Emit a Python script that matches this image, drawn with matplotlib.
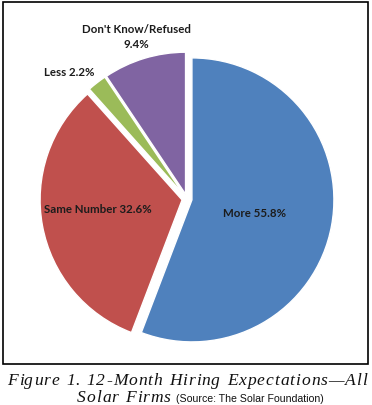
import matplotlib
matplotlib.use("Agg")
import matplotlib.pyplot as plt
from matplotlib.patches import Rectangle

# data
labels = ["More", "Same Number", "Less", "Don't Know/Refused"]
shares = [55.8, 32.6, 2.2, 9.4]
colors = ["#4F81BD", "#C0504D", "#9BBB59", "#8064A2"]
caption1 = "Figure 1. 12-Month Hiring Expectations\u2014All"
caption2 = "Solar Firms"
source = "(Source: The Solar Foundation)"

W, H = 372, 406
fig = plt.figure(figsize=(W / 100, H / 100), dpi=100)
ax = fig.add_axes([0, 0, 1, 1])

# pie, in pixel units (y up)
cx, cy, r = 187, H - 200, 142
wedges, _ = ax.pie(shares, colors=colors, startangle=90, counterclock=False,
                   explode=[5] * 4, center=(cx, cy), radius=r,
                   wedgeprops=dict(edgecolor="white", linewidth=1))
ax.set_xlim(0, W)
ax.set_ylim(0, H)
ax.set_aspect("equal")
ax.axis("off")

lab_font = dict(family=["Lato", "DejaVu Sans"], fontweight="bold", fontsize=8.3,
                color="#1c1c1c", ha="center", va="center")
ax.text(255, H - 214, f"{labels[0]} {shares[0]}%", **lab_font)
ax.text(98, H - 210, f"{labels[1]} {shares[1]}%", **lab_font)
ax.text(69, H - 72, f"{labels[2]} {shares[2]}%", **lab_font)
ax.text(136, H - 37, f"{labels[3]}\n{shares[3]}%", linespacing=1.5, **lab_font)

# frame
ax.add_patch(Rectangle((3, H - 365), 365, 362, fill=False, edgecolor="black",
                       linewidth=1.2, clip_on=False))

# caption with letter spacing, drawn one glyph at a time
renderer = fig.canvas.get_renderer()
cap = dict(family="Liberation Serif", style="italic", color="#111111",
           fontsize=12.6, va="baseline", ha="left")


def char_widths(s):
    out = []
    for ch in s:
        t = ax.text(0, 0, ch if ch != " " else "i", **cap)
        out.append(t.get_window_extent(renderer).width)
        t.remove()
    return out


def tracked(x, y, s, track):
    for ch, w in zip(s, char_widths(s)):
        if ch != " ":
            ax.text(x, y, ch, **cap)
        x += w + track
    return x - track


w1 = char_widths(caption1)
track = (360 - sum(w1)) / (len(caption1) - 1)
tracked(7, H - 385, caption1, track)
x_end = tracked(77, H - 402, caption2, track)
ax.text(x_end + 5, H - 402, source, ha="left", va="baseline",
        family="Liberation Sans", fontsize=7.6, color="#111111")

fig.savefig("out.png", dpi=100)
